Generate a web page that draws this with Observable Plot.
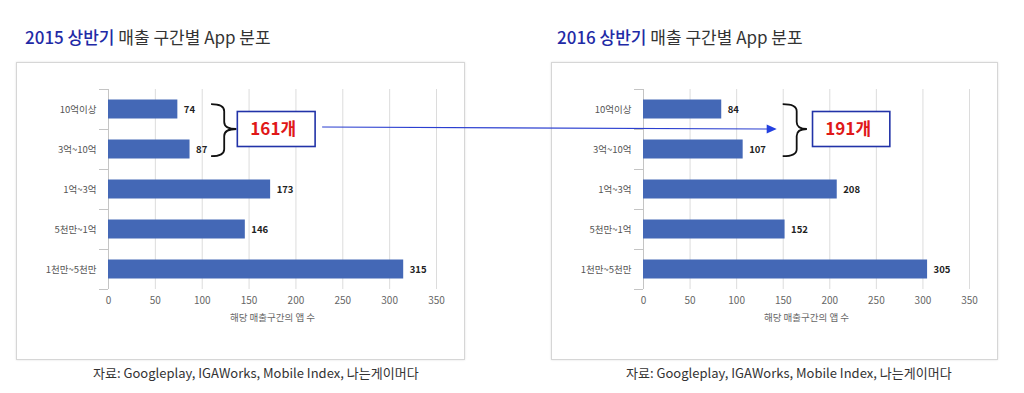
<!DOCTYPE html>
<html>
<head>
<meta charset="utf-8">
<script src="https://cdn.jsdelivr.net/npm/d3@7"></script>
<script src="https://cdn.jsdelivr.net/npm/@observablehq/plot@0.6"></script>
<style>
  html, body { margin: 0; padding: 0; background: #fff; }
  body { width: 1024px; height: 393px; position: relative; overflow: hidden;
         font-family: "Noto Sans CJK KR", "Noto Sans", sans-serif; }
  .title { position: absolute; top: 26px; font-size: 17px; line-height: 22px; color: #333; white-space: nowrap; }
  .title .hl { color: #1f2aa6; font-weight: 500; }
  .frame { position: absolute; top: 62px; height: 296px; border: 1px solid #d6d6d6;
           box-shadow: 0 0 2px rgba(0,0,0,0.12); background: #fff; }
  .frame svg { position: absolute; left: 0; top: 0; overflow: visible; }
  .foot { position: absolute; top: 363px; font-size: 13px; line-height: 20px; color: #333; white-space: nowrap; }
  #overlay { position: absolute; left: 0; top: 0; pointer-events: none; }
</style>
</head>
<body>
<div class="title" style="left:25px"><span class="hl">2015 상반기</span> 매출 구간별 App 분포</div>
<div class="title" style="left:557px"><span class="hl">2016 상반기</span> 매출 구간별 App 분포</div>
<div class="frame" id="f1" style="left:16px; width:447px"></div>
<div class="frame" id="f2" style="left:551px; width:445px"></div>
<div class="foot" style="left:93px">자료: Googleplay, IGAWorks, Mobile Index, 나는게이머다</div>
<div class="foot" style="left:626px">자료: Googleplay, IGAWorks, Mobile Index, 나는게이머다</div>
<svg id="overlay" width="1024" height="393"></svg>
<script>
// ---- data ----
const categories = ["10억이상", "3억~10억", "1억~3억", "5천만~1억", "1천만~5천만"];
const values2015 = [74, 87, 173, 146, 315];
const values2016 = [84, 107, 208, 152, 305];
const xTicks = [0, 50, 100, 150, 200, 250, 300, 350];
const axisTitle = "해당 매출구간의 앱 수";
const totals = ["161개", "191개"];

// annotation placement in data units (brace start, brace tip, box start, box end)
const annot = [
  {braceX0: 110, braceX1: 124, tipX: 137, boxX0: 138, boxX1: 221},
  {braceX0: 150, braceX1: 165, tipX: 176, boxX0: 182, boxX1: 265}
];

const BAR = "#4468b6";
const GRID = "#dcdcdc";

function makeChart(values, width) {
  const rows = categories.map((c, i) => ({cat: c, v: values[i]}));
  return Plot.plot({
    width: width,
    height: 296,
    marginLeft: 91,
    marginRight: 28,
    marginTop: 26,
    marginBottom: 70,
    style: {fontFamily: "'Noto Sans CJK KR', sans-serif", fontSize: "9.5px", color: "#595959", background: "transparent"},
    x: {domain: [0, 350], ticks: xTicks, label: null},
    y: {domain: categories, padding: 0, label: null},
    marks: [
      Plot.gridX(xTicks, {stroke: GRID, strokeOpacity: 1}),
      Plot.ruleX([0], {stroke: "#c4c4c4"}),
      Plot.barX(rows, {y: "cat", x: "v", fill: BAR, insetTop: 10.5, insetBottom: 10.5}),
      Plot.text(rows, {y: "cat", x: "v", text: d => String(d.v), dx: 6, textAnchor: "start",
                       fontWeight: "bold", fill: "#222", fontSize: 9.5}),
      Plot.axisX(xTicks, {tickSize: 0, tickPadding: 7, fill: "#666", fontSize: 10}),
      Plot.axisY({tickSize: 0, tickPadding: 12, fill: "#555", fontSize: 9.5}),
      Plot.text([axisTitle], {frameAnchor: "bottom", dy: 31, fill: "#666", fontSize: 9.5})
    ]
  });
}

const charts = [makeChart(values2015, 447), makeChart(values2016, 445)];
const frames = [document.getElementById("f1"), document.getElementById("f2")];
const frameLeft = [16, 551], frameTop = 62;
charts.forEach((c, i) => frames[i].appendChild(c));

const overlay = d3.select("#overlay");
const boxes = [];

charts.forEach((chart, i) => {
  const xs = chart.scale("x"), ys = chart.scale("y");
  const svg = d3.select(chart);
  const step = ys.bandwidth !== undefined ? ys.bandwidth : 40;
  const yTop = ys.apply(categories[0]);
  // category boundary ticks (Excel-like)
  const x0 = xs.apply(0);
  const g = svg.append("g");
  for (let k = 0; k <= categories.length; k++) {
    const yy = Math.round(yTop + k * step) + 0.5;
    g.append("line").attr("x1", x0 - 9).attr("x2", x0).attr("y1", yy).attr("y2", yy)
      .attr("stroke", "#c4c4c4");
  }
  // annotation: brace + box
  const a = annot[i];
  const yMid = ys.apply(categories[1]);           // boundary between first two bands
  const yb0 = ys.apply(categories[0]) + step * 0.38;
  const yb1 = ys.apply(categories[1]) + step * 0.68;
  const bx0 = xs.apply(a.braceX0), bx1 = xs.apply(a.braceX1), tip = xs.apply(a.tipX);
  const r = 7;
  const path = `M${bx0},${yb0} Q${bx1},${yb0} ${bx1},${yb0 + r} L${bx1},${yMid - r} Q${bx1},${yMid} ${tip},${yMid}` +
               ` M${tip},${yMid} Q${bx1},${yMid} ${bx1},${yMid + r} L${bx1},${yb1 - r} Q${bx1},${yb1} ${bx0},${yb1}`;
  svg.append("path").attr("d", path).attr("fill", "none").attr("stroke", "#111").attr("stroke-width", 1.8);
  const rx0 = xs.apply(a.boxX0), rx1 = xs.apply(a.boxX1);
  const bh = 35;
  svg.append("rect").attr("x", rx0).attr("y", yMid - bh / 2).attr("width", rx1 - rx0).attr("height", bh)
    .attr("fill", "#fff").attr("stroke", "#2233a8").attr("stroke-width", 1.6);
  svg.append("text").attr("x", (rx0 + rx1) / 2 - 3).attr("y", yMid).attr("dy", "0.35em")
    .attr("text-anchor", "middle").attr("fill", "#e01818").attr("font-weight", "bold")
    .attr("font-size", 17).attr("font-family", "'Noto Sans CJK KR', sans-serif").text(totals[i]);
  boxes.push({x0: frameLeft[i] + rx0, x1: frameLeft[i] + rx1, braceX: frameLeft[i] + bx0, y: frameTop + yMid});
});

// connecting arrow from 2015 box to 2016 brace
const ax0 = boxes[0].x1 + 8, ay0 = boxes[0].y - 1;
const ax1 = boxes[1].braceX - 5, ay1 = boxes[1].y + 1;
overlay.append("line").attr("x1", ax0).attr("y1", ay0).attr("x2", ax1 - 9).attr("y2", ay1)
  .attr("stroke", "#2b3fd0").attr("stroke-width", 1.1);
overlay.append("path")
  .attr("d", `M${ax1},${ay1} L${ax1 - 10},${ay1 - 4.5} L${ax1 - 10},${ay1 + 4.5} Z`)
  .attr("fill", "#2340e0");
</script>
</body>
</html>
